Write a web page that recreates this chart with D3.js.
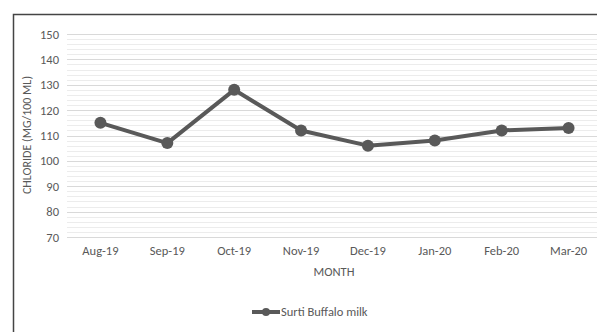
<!DOCTYPE html>
<html><head><meta charset="utf-8">
<script src="https://cdn.jsdelivr.net/npm/d3@7"></script>
<style>body{margin:0;background:#fff}svg{display:block}text{font-family:Calibri,Carlito,Lato,sans-serif}</style>
</head><body>
<svg id="c" width="597" height="332"></svg>
<script>
const categories = ["Aug-19","Sep-19","Oct-19","Nov-19","Dec-19","Jan-20","Feb-20","Mar-20"];
const values = [115,107,128,112,106,108,112,113];
const yTicks = [70,80,90,100,110,120,130,140,150];
const minorTicks = d3.range(70,151,2);
const seriesName = "Surti Buffalo milk";
const xTitle = "MONTH";
const yTitle = "CHLORIDE (MG/100 ML)";

const svg = d3.select("#c");
const m = {left:67, right:602, top:34, bottom:237};
const x = d3.scaleBand().domain(categories).range([m.left, m.right]);
const y = d3.scaleLinear().domain([70,150]).range([m.bottom, m.top]);
const txt = "#595959";
const FF = "Calibri,Carlito,Lato,sans-serif";

// outer border
svg.append("path").attr("d","M13.5,332 V14.5 H597").attr("fill","none").attr("stroke","#444").attr("stroke-width",1.5);

// minor grid
svg.append("g").selectAll("line").data(minorTicks.filter(d=>d%10!==0)).join("line")
  .attr("x1",m.left).attr("x2",597).attr("y1",d=>Math.round(y(d))+0.5).attr("y2",d=>Math.round(y(d))+0.5)
  .attr("stroke","#ececec").attr("stroke-width",1);
// major grid
svg.append("g").selectAll("line").data(yTicks).join("line")
  .attr("x1",m.left).attr("x2",597).attr("y1",d=>Math.round(y(d))+0.5).attr("y2",d=>Math.round(y(d))+0.5)
  .attr("stroke","#d9d9d9").attr("stroke-width",1);

// y axis labels
const yAxis = svg.append("g").attr("transform",`translate(${m.left-8},0)`)
  .call(d3.axisLeft(y).tickValues(yTicks).tickSize(0).tickPadding(0));
yAxis.select(".domain").remove();
yAxis.selectAll("text").attr("fill",txt).style("font-size","12.5px").style("font-family",FF);

// x axis labels
const xAxis = svg.append("g").attr("transform",`translate(0,${m.bottom+9})`)
  .call(d3.axisBottom(x).tickSize(0).tickPadding(0));
xAxis.select(".domain").remove();
xAxis.selectAll("text").attr("fill",txt).attr("dy","0.71em").style("font-size","12.5px").style("font-family",FF);

// titles
svg.append("text").attr("x",334).attr("y",276).attr("text-anchor","middle").attr("fill",txt).style("font-size","12.5px").text(xTitle);
svg.append("text").attr("transform","translate(31,135) rotate(-90)").attr("text-anchor","middle").attr("fill",txt).style("font-size","12px").text(yTitle);

// line
const cx = d => x(d) + x.bandwidth()/2;
const line = d3.line().x((d,i)=>cx(categories[i])).y(d=>y(d));
svg.append("path").datum(values).attr("d",line).attr("fill","none").attr("stroke","#595959").attr("stroke-width",4).attr("stroke-linejoin","round");
svg.append("g").selectAll("circle").data(values).join("circle")
  .attr("cx",(d,i)=>cx(categories[i])).attr("cy",d=>y(d)).attr("r",6).attr("fill","#595959");

// legend
const lg = svg.append("g");
lg.append("line").attr("x1",252).attr("x2",280).attr("y1",312).attr("y2",312).attr("stroke","#595959").attr("stroke-width",4);
lg.append("circle").attr("cx",266).attr("cy",312).attr("r",4).attr("fill","#595959");
lg.append("text").attr("x",281).attr("y",316).attr("fill",txt).style("font-size","12.5px").text(seriesName);
</script>
</body></html>
